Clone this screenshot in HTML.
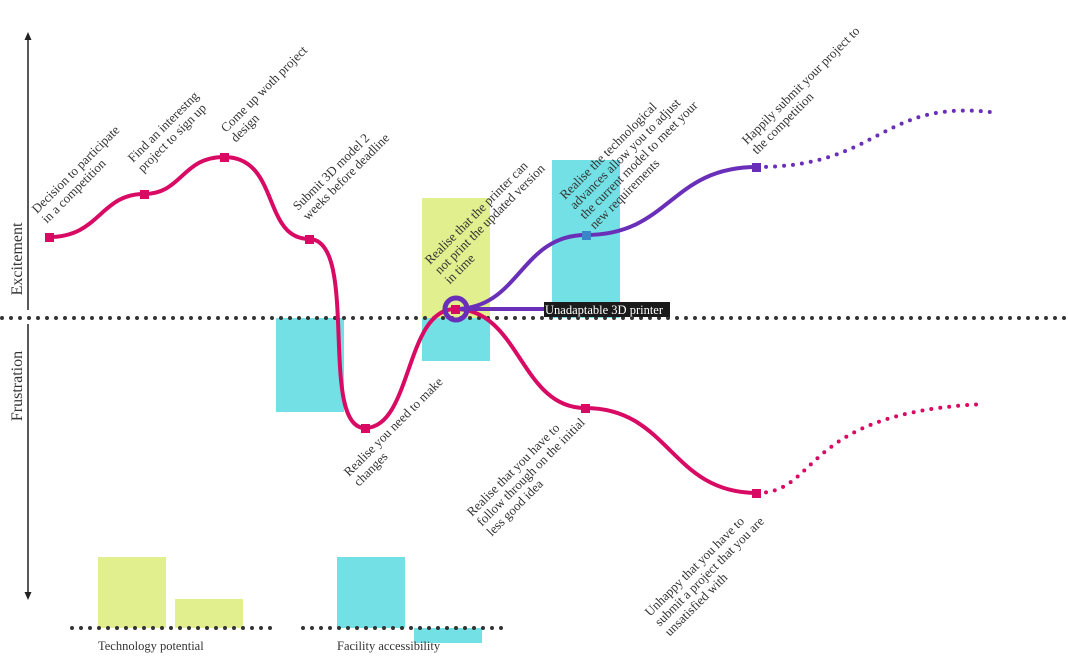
<!DOCTYPE html>
<html><head><meta charset="utf-8"><style>
html,body{margin:0;padding:0;background:#fff;}
svg{display:block;}
text{font-family:"Liberation Serif",serif;fill:#333;}
</style></head><body>
<svg width="1068" height="672" viewBox="0 0 1068 672" xmlns="http://www.w3.org/2000/svg">
<rect x="276" y="318" width="68" height="94" fill="#72e0e4"/>
<rect x="422" y="198" width="68" height="120" fill="#e1ef8e"/>
<rect x="422" y="318" width="68" height="43" fill="#72e0e4"/>
<rect x="552" y="160" width="68" height="158" fill="#72e0e4"/>
<rect x="98" y="557" width="68" height="71" fill="#e1ef8e"/>
<rect x="175" y="599" width="68" height="29" fill="#e1ef8e"/>
<rect x="337" y="557" width="68" height="71" fill="#72e0e4"/>
<rect x="414" y="628" width="68" height="15" fill="#72e0e4"/>
<line x1="2" y1="318" x2="1066" y2="318" stroke="#333" stroke-width="4" stroke-linecap="round" stroke-dasharray="0 9"/>
<line x1="72" y1="628" x2="274" y2="628" stroke="#333" stroke-width="4" stroke-linecap="round" stroke-dasharray="0 9"/>
<line x1="303" y1="628" x2="505" y2="628" stroke="#333" stroke-width="4" stroke-linecap="round" stroke-dasharray="0 9"/>
<line x1="28" y1="38" x2="28" y2="310" stroke="#222" stroke-width="1.5"/>
<polygon points="28,32 24.5,40 31.5,40" fill="#222"/>
<line x1="28" y1="324" x2="28" y2="594" stroke="#222" stroke-width="1.5"/>
<polygon points="28,600 24.5,592 31.5,592" fill="#222"/>
<text transform="translate(22,259) rotate(-90)" text-anchor="middle" font-size="16">Excitement</text>
<text transform="translate(22,386) rotate(-90)" text-anchor="middle" font-size="16">Frustration</text>
<path d="M49,237 C100,237 100,194 144,194 C182,194 182,157 224,157 C280,157 262,239 309,239 C360,239 318,428 365,428 C412,428 405,309 455,309 C520,309 520,408 585,408 C670,408 670,493 757,493" fill="none" stroke="#d80a64" stroke-width="4"/>
<path d="M757,493 C820,493 800,412 985,404" fill="none" stroke="#d80a64" stroke-width="4" stroke-linecap="round" stroke-dasharray="0 9"/>
<line x1="455" y1="309" x2="546" y2="309" stroke="#6a2fb8" stroke-width="4"/>
<path d="M455,309 C520,309 520,235 586,235 C670,235 670,167 757,167" fill="none" stroke="#6a2fb8" stroke-width="4"/>
<path d="M757,167 C880,167 880,100 990,112" fill="none" stroke="#6a2fb8" stroke-width="4" stroke-linecap="round" stroke-dasharray="0 9"/>
<circle cx="456" cy="309" r="11" fill="none" stroke="#6a2fb8" stroke-width="5"/>
<g fill="#d80a64">
<rect x="45" y="233" width="9" height="9"/>
<rect x="140" y="190" width="9" height="9"/>
<rect x="220" y="153" width="9" height="9"/>
<rect x="305" y="235" width="9" height="9"/>
<rect x="361" y="424" width="9" height="9"/>
<rect x="451" y="305" width="9" height="9"/>
<rect x="581" y="404" width="9" height="9"/>
<rect x="752" y="489" width="9" height="9"/>
</g>
<rect x="582" y="231" width="9" height="9" fill="#3a86c8"/>
<rect x="752" y="163" width="9" height="9" fill="#6a2fb8"/>
<rect x="544" y="302" width="126" height="15" fill="#1a1a1a"/>
<text x="545" y="314" font-size="12.5" style="fill:#fff">Unadaptable 3D printer</text>
<g font-size="13">
<text transform="translate(37,214) rotate(-45)"><tspan x="0" y="0">Decision to participate</tspan><tspan x="0" y="14">in a competition</tspan></text>
<text transform="translate(133,163) rotate(-45)"><tspan x="0" y="0">Find an interestng</tspan><tspan x="0" y="14">project to sign up</tspan></text>
<text transform="translate(226,133) rotate(-45)"><tspan x="0" y="0">Come up woth project</tspan><tspan x="0" y="14">design</tspan></text>
<text transform="translate(298,211) rotate(-45)"><tspan x="0" y="0">Submit 3D model 2</tspan><tspan x="0" y="14">weeks before deadline</tspan></text>
<text transform="translate(430,265) rotate(-45)"><tspan x="0" y="0">Realise that the printer can</tspan><tspan x="0" y="14">not print the updated version</tspan><tspan x="0" y="28">in time</tspan></text>
<text transform="translate(565,200) rotate(-45)"><tspan x="0" y="0">Realise the technological</tspan><tspan x="0" y="14">advances allow you to adjust</tspan><tspan x="0" y="28">the current model to meet your</tspan><tspan x="0" y="42">new requirements</tspan></text>
<text transform="translate(747,145) rotate(-45)"><tspan x="0" y="0">Happily submit your project to</tspan><tspan x="0" y="14">the competition</tspan></text>
<text transform="translate(349,477) rotate(-45)"><tspan x="0" y="0">Realise you need to make</tspan><tspan x="0" y="14">changes</tspan></text>
<text transform="translate(472,517) rotate(-45)"><tspan x="0" y="0">Realise that you have to</tspan><tspan x="0" y="14">follow through on the initial</tspan><tspan x="0" y="28">less good idea</tspan></text>
<text transform="translate(650,617) rotate(-45)"><tspan x="0" y="0">Unhappy that you have to</tspan><tspan x="0" y="14">submit a project that you are</tspan><tspan x="0" y="28">unsatisfied with</tspan></text>
</g>
<text x="98" y="650" font-size="12.5">Technology potential</text>
<text x="337" y="650" font-size="12.5">Facility accessibility</text>
</svg>
</body></html>
